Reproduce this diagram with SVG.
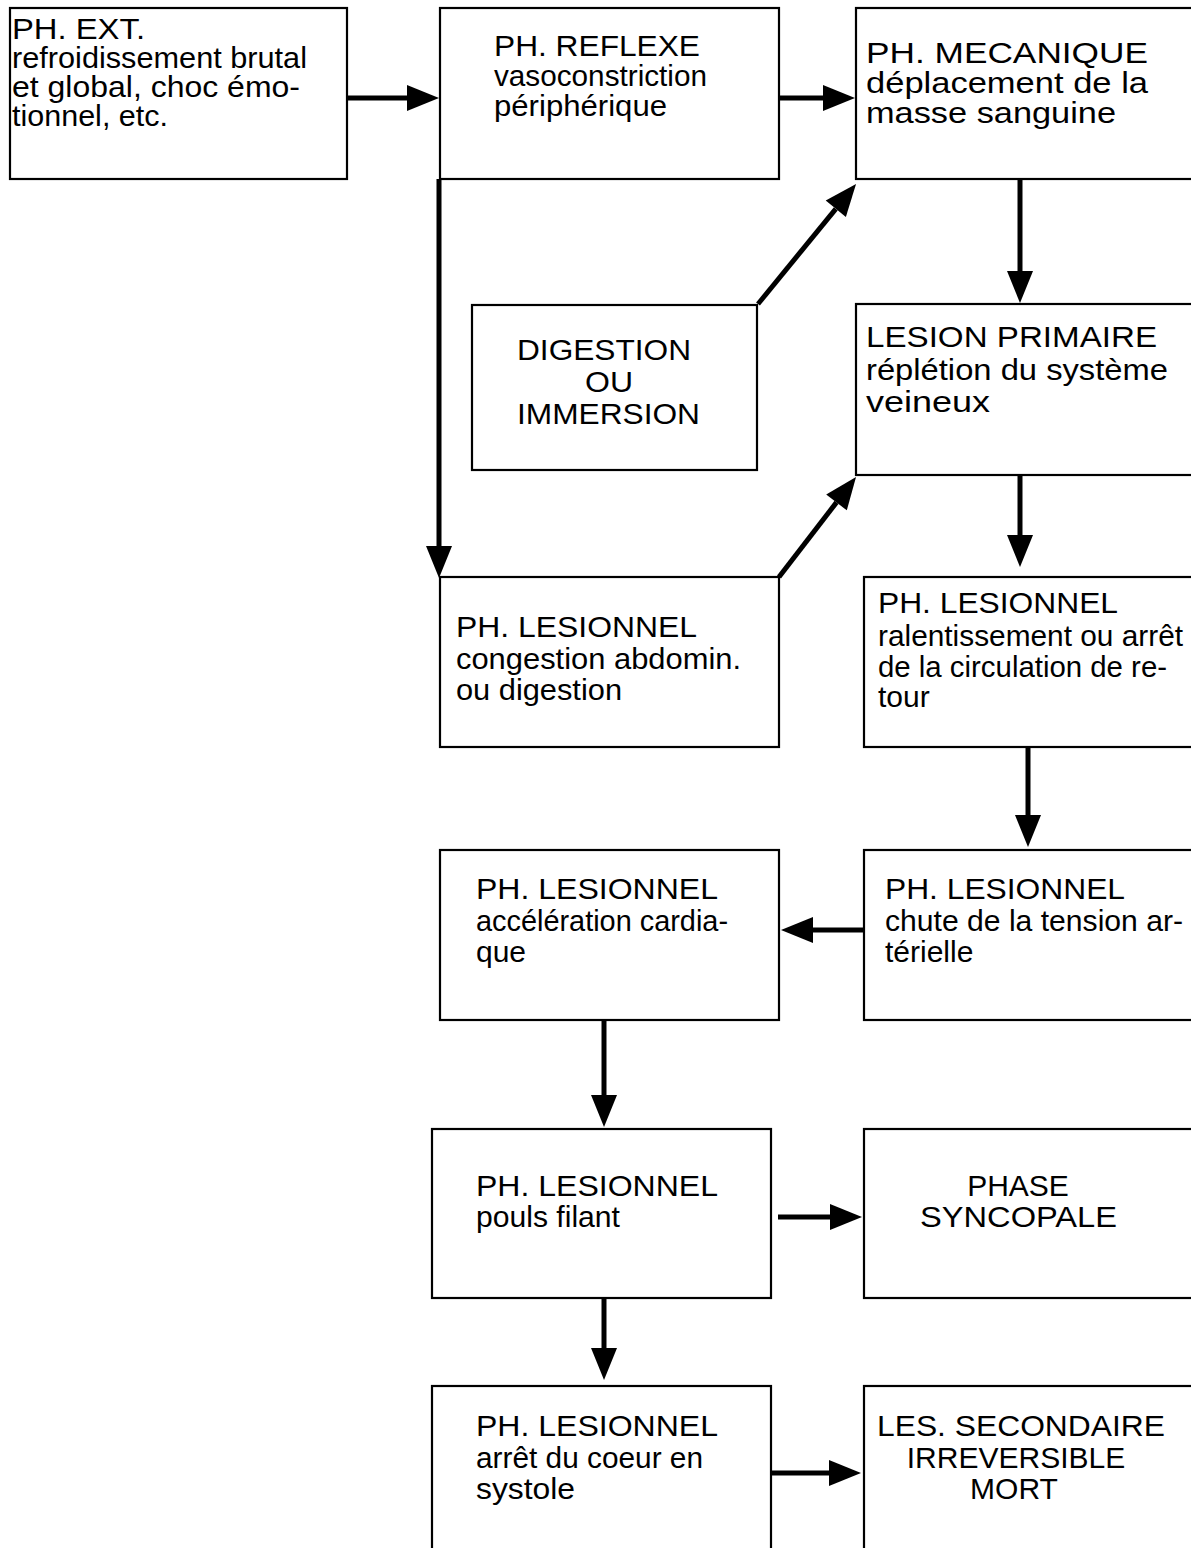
<svg xmlns="http://www.w3.org/2000/svg" width="1191" height="1548" viewBox="0 0 1191 1548">
<style>
.box{fill:#fff;stroke:#000;stroke-width:2.2}
.t{font-family:"Liberation Sans",Arial,sans-serif;font-size:30px;fill:#000}
.s{font-size:29px}
.c{text-anchor:middle}
.arr{stroke:#000;stroke-width:5;fill:none;marker-end:url(#ah)}
</style>
<defs>
<marker id="ah" markerUnits="userSpaceOnUse" markerWidth="34" markerHeight="28" refX="0" refY="13" orient="auto" viewBox="0 0 34 26" overflow="visible">
<path d="M0,0 L32,13 L0,26 z" fill="#000"/>
</marker>
</defs>
<rect width="1191" height="1548" fill="#fff"/>
<g id="n1"><rect class="box" x="10" y="8" width="337" height="171"/>
<text class="t s" x="12" y="39" textLength="133" lengthAdjust="spacingAndGlyphs">PH. EXT.</text><text class="t s" x="12" y="68" textLength="295" lengthAdjust="spacingAndGlyphs">refroidissement brutal</text><text class="t s" x="12" y="97" textLength="288" lengthAdjust="spacingAndGlyphs">et global, choc émo-</text><text class="t s" x="12" y="126" textLength="156" lengthAdjust="spacingAndGlyphs">tionnel, etc.</text></g>
<g id="n2"><rect class="box" x="440" y="8" width="339" height="171"/>
<text class="t" x="494" y="56" textLength="206" lengthAdjust="spacingAndGlyphs">PH. REFLEXE</text><text class="t" x="494" y="86" textLength="213" lengthAdjust="spacingAndGlyphs">vasoconstriction</text><text class="t" x="494" y="116" textLength="173" lengthAdjust="spacingAndGlyphs">périphérique</text></g>
<g id="n3"><rect class="box" x="856" y="8" width="350" height="171"/>
<text class="t" x="866" y="63" textLength="282" lengthAdjust="spacingAndGlyphs">PH. MECANIQUE</text><text class="t" x="866" y="93" textLength="282" lengthAdjust="spacingAndGlyphs">déplacement de la</text><text class="t" x="866" y="123" textLength="250" lengthAdjust="spacingAndGlyphs">masse sanguine</text></g>
<g id="n4"><rect class="box" x="472" y="305" width="285" height="165"/>
<text class="t" x="517" y="360" textLength="174" lengthAdjust="spacingAndGlyphs">DIGESTION</text><text class="t" x="585" y="392" textLength="48" lengthAdjust="spacingAndGlyphs">OU</text><text class="t" x="517" y="424" textLength="183" lengthAdjust="spacingAndGlyphs">IMMERSION</text></g>
<g id="n5"><rect class="box" x="856" y="304" width="350" height="171"/>
<text class="t" x="866" y="347" textLength="291" lengthAdjust="spacingAndGlyphs">LESION PRIMAIRE</text><text class="t" x="866" y="380" textLength="302" lengthAdjust="spacingAndGlyphs">réplétion du système</text><text class="t" x="866" y="412" textLength="124" lengthAdjust="spacingAndGlyphs">veineux</text></g>
<g id="n6"><rect class="box" x="440" y="577" width="339" height="170"/>
<text class="t" x="456" y="637" textLength="241" lengthAdjust="spacingAndGlyphs">PH. LESIONNEL</text><text class="t" x="456" y="669" textLength="285" lengthAdjust="spacingAndGlyphs">congestion abdomin.</text><text class="t" x="456" y="700" textLength="166" lengthAdjust="spacingAndGlyphs">ou digestion</text></g>
<g id="n7"><rect class="box" x="864" y="577" width="342" height="170"/>
<text class="t" x="878" y="613" textLength="240" lengthAdjust="spacingAndGlyphs">PH. LESIONNEL</text><text class="t" x="878" y="646" textLength="305" lengthAdjust="spacingAndGlyphs">ralentissement ou arrêt</text><text class="t" x="878" y="677" textLength="289" lengthAdjust="spacingAndGlyphs">de la circulation de re-</text><text class="t" x="878" y="707">tour</text></g>
<g id="n8"><rect class="box" x="864" y="850" width="342" height="170"/>
<text class="t" x="885" y="899" textLength="240" lengthAdjust="spacingAndGlyphs">PH. LESIONNEL</text><text class="t" x="885" y="931" textLength="298" lengthAdjust="spacingAndGlyphs">chute de la tension ar-</text><text class="t" x="885" y="962">térielle</text></g>
<g id="n9"><rect class="box" x="440" y="850" width="339" height="170"/>
<text class="t" x="476" y="899" textLength="242" lengthAdjust="spacingAndGlyphs">PH. LESIONNEL</text><text class="t" x="476" y="931" textLength="252" lengthAdjust="spacingAndGlyphs">accélération cardia-</text><text class="t" x="476" y="962">que</text></g>
<g id="n10"><rect class="box" x="432" y="1129" width="339" height="169"/>
<text class="t" x="476" y="1196" textLength="242" lengthAdjust="spacingAndGlyphs">PH. LESIONNEL</text><text class="t" x="476" y="1227" textLength="144" lengthAdjust="spacingAndGlyphs">pouls filant</text></g>
<g id="n11"><rect class="box" x="864" y="1129" width="342" height="169"/>
<text class="t c" x="1018" y="1196">PHASE</text><text class="t" x="920" y="1227" textLength="197" lengthAdjust="spacingAndGlyphs">SYNCOPALE</text></g>
<g id="n12"><rect class="box" x="432" y="1386" width="339" height="180"/>
<text class="t" x="476" y="1436" textLength="242" lengthAdjust="spacingAndGlyphs">PH. LESIONNEL</text><text class="t" x="476" y="1468" textLength="227" lengthAdjust="spacingAndGlyphs">arrêt du coeur en</text><text class="t" x="476" y="1499" textLength="99" lengthAdjust="spacingAndGlyphs">systole</text></g>
<g id="n13"><rect class="box" x="864" y="1386" width="342" height="180"/>
<text class="t" x="877" y="1436" textLength="288" lengthAdjust="spacingAndGlyphs">LES. SECONDAIRE</text><text class="t c" x="1016" y="1468">IRREVERSIBLE</text><text class="t c" x="1014" y="1499">MORT</text></g>
<g id="connectors">
<line class="arr" x1="347" y1="98" x2="407" y2="98"/>
<line class="arr" x1="779" y1="98" x2="823" y2="98"/>
<line class="arr" x1="439" y1="179" x2="439" y2="546"/>
<line class="arr" x1="758" y1="304" x2="835.8" y2="208.8"/>
<line class="arr" x1="1020" y1="179" x2="1020" y2="271"/>
<line class="arr" x1="1020" y1="475" x2="1020" y2="535"/>
<line class="arr" x1="779" y1="577" x2="836.5" y2="502.4"/>
<line class="arr" x1="1028" y1="747" x2="1028" y2="815"/>
<line class="arr" x1="864" y1="930" x2="813" y2="930"/>
<line class="arr" x1="604" y1="1020" x2="604" y2="1095"/>
<line class="arr" x1="778" y1="1217" x2="830" y2="1217"/>
<line class="arr" x1="604" y1="1298" x2="604" y2="1348"/>
<line class="arr" x1="771" y1="1473" x2="829" y2="1473"/>
</g>
</svg>
